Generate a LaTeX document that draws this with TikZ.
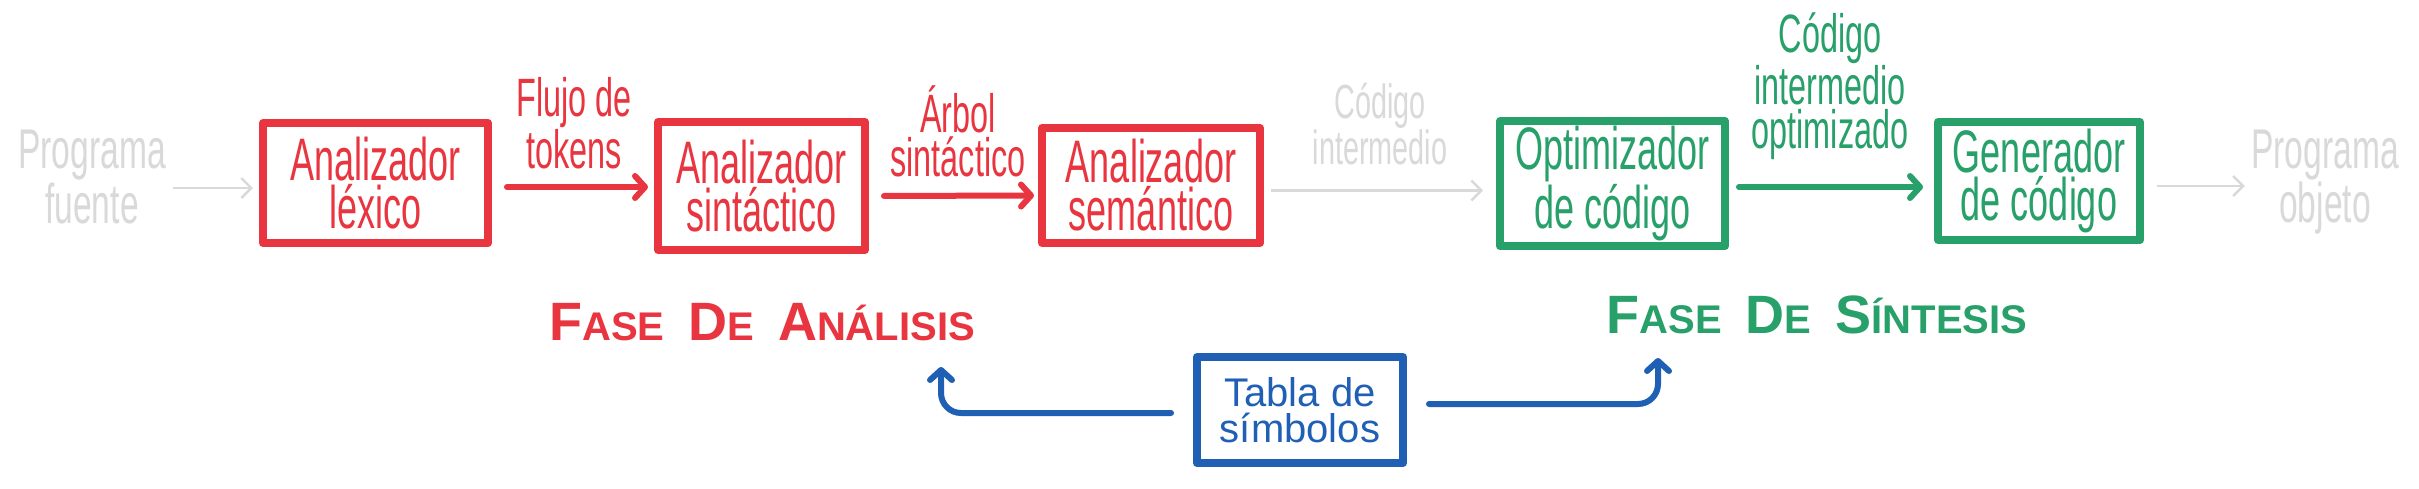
\documentclass[tikz,border=0pt]{standalone}
\usepackage{fontspec}
\setmainfont{Liberation Sans}
\newfontfamily\hand[FakeStretch=0.6]{Liberation Sans}
\newfontfamily\handw{Liberation Sans}
\usetikzlibrary{arrows.meta}
\definecolor{cred}{HTML}{E8353F}
\definecolor{cgreen}{HTML}{27A06A}
\definecolor{cblue}{HTML}{1F5FB4}
\definecolor{cfaint}{gray}{0.85}
\newcommand\BigL[1]{{\fontsize{27}{27}\selectfont #1}}
\tikzset{
  box/.style={line width=4pt, line join=round, align=center, inner sep=0pt,
    font=\hand\fontsize{30}{24}\selectfont},
  lbl/.style={align=center, inner sep=0pt, font=\hand\fontsize{27}{22}\selectfont},
  faint/.style={align=center, inner sep=0pt, text=cfaint},
  flow/.style={line width=3pt, line cap=round, line join=round,
    -{Straight Barb[length=5pt,width=11pt,round]}},
  fflow/.style={draw=cfaint, line width=1.2pt,
    -{Straight Barb[length=5pt,width=10pt]}},
  phase/.style={inner sep=0pt, font=\handw\bfseries\fontsize{20}{20}\selectfont},
}
\begin{document}
\begin{tikzpicture}[x=0.5pt,y=-0.5pt]
\path[use as bounding box, fill=white] (0,0) rectangle (2419,488);

% faint end texts
\node[faint, font=\hand\fontsize{28}{23}\selectfont] (fuente) at (92,177) {Programa\\fuente};
\node[faint, font=\hand\fontsize{28}{23}\selectfont] (objeto) at (2325,182) {Programa\\objeto};

% boxes
\node[box, draw=cred, text=cred, minimum width=112.5pt, minimum height=60pt] (lex) at (375.5,183) {Analizador\\léxico};
\node[box, draw=cred, text=cred, minimum width=103.5pt, minimum height=64pt] (sin) at (761.5,186) {Analizador\\sintáctico};
\node[box, draw=cred, text=cred, minimum width=109pt, minimum height=57.5pt] (sem) at (1151,185.5) {Analizador\\semántico};
\node[box, draw=cgreen, text=cgreen, minimum width=112.5pt, minimum height=62.5pt] (opt) at (1612.5,183.5) {Optimizador\\de código};
\node[box, draw=cgreen, text=cgreen, minimum width=101pt, minimum height=59pt] (gen) at (2039,181) {Generador\\de código};
\node[box, draw=cblue, text=cblue, minimum width=103pt, minimum height=53pt,
      font=\handw\fontsize{20}{18}\selectfont] (tab) at (1300,410) {Tabla de\\símbolos};

% arrow labels
\node[lbl, text=cred] (flujo) at (574,123) {Flujo de\\tokens};
\node[lbl, text=cred] (arbol) at (958,131) {Árbol\\sintáctico};
\node[faint, font=\hand\fontsize{24}{21}\selectfont] (inter) at (1380,124) {Código\\intermedio};
\node[lbl, text=cgreen] (optl) at (1830,86) {Código\\intermedio\\optimizado};

% phase titles
\node[phase, text=cred] (analisis) at (762,322) {\BigL{F}ASE\hspace{12pt}\BigL{D}E\hspace{12pt}\BigL{A}NÁLISIS};
\node[phase, text=cgreen] (sintesis) at (1817,315) {\BigL{F}ASE\hspace{12pt}\BigL{D}E\hspace{12pt}\BigL{S}ÍNTESIS};

% connectors
\draw[fflow, shorten <=3.5pt, shorten >=3pt] ([yshift=-5.5pt]fuente.east) -- ([yshift=-2.5pt]lex.west);
\draw[flow, cred, shorten <=7.5pt, shorten >=3pt] ([yshift=-2pt]lex.east) -- ([yshift=-0.5pt]sin.west);
\draw[flow, cred, shorten <=7.5pt, shorten >=2pt] ([yshift=-5pt]sin.east) -- ([yshift=-5pt]sem.west);
\draw[fflow, shorten <=3.5pt, shorten >=6.5pt] ([yshift=-2.5pt]sem.east) -- ([yshift=-3.5pt]opt.west);
\draw[flow, cgreen, shorten <=5pt, shorten >=5.5pt] ([yshift=-1.75pt]opt.east) -- ([yshift=-3pt]gen.west);
\draw[fflow, shorten <=6.5pt, shorten >=3pt] ([yshift=-2.5pt]gen.east) -- ([yshift=-2pt]objeto.west);

\coordinate (la) at (941,367);
\coordinate (ra) at (1658,358);
\draw[flow, cblue, rounded corners=10pt, shorten <=11pt] ([yshift=-1.5pt]tab.west) -| (la);
\draw[flow, cblue, rounded corners=10pt, shorten <=11pt] ([yshift=3pt]tab.east) -| (ra);
\end{tikzpicture}
\end{document}
